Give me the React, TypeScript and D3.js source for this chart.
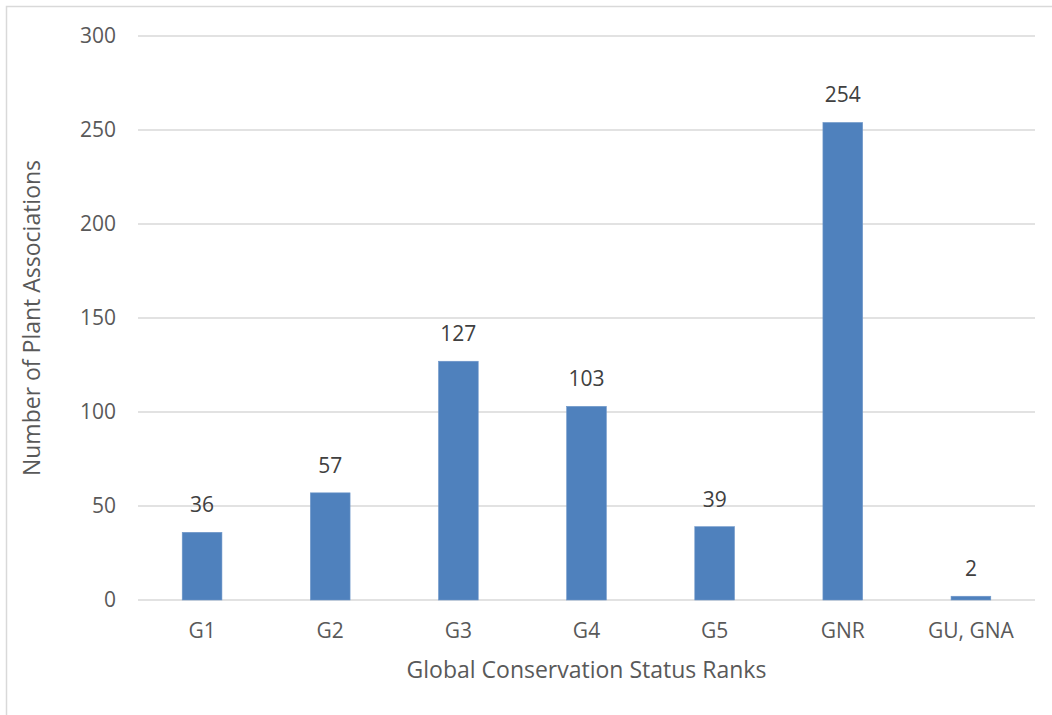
import React from "react";
import * as d3 from "d3";

const categories = ["G1", "G2", "G3", "G4", "G5", "GNR", "GU, GNA"];
const values = [36, 57, 127, 103, 39, 254, 2];
const yTicks = [0, 50, 100, 150, 200, 250, 300];
const xTitle = "Global Conservation Status Ranks";
const yTitle = "Number of Plant Associations";

const W = 1052;
const H = 715;
const left = 138;
const right = 1035;
const top = 36;
const bottom = 600;
const font = "'Open Sans', sans-serif";
const textColor = "#595959";

export default function App() {
  const x = d3.scaleBand<string>().domain(categories).range([left, right]).paddingInner(0.69).paddingOuter(0.345);
  const y = d3.scaleLinear().domain([0, 300]).range([bottom, top]);
  return (
    <svg width={W} height={H} style={{ position: "absolute", left: 0, top: 0 }}>
      <rect x={0} y={0} width={W} height={H} fill="#fff" />
      <rect x={6.5} y={6.5} width={W + 20} height={H + 20} fill="none" stroke="#d9d9d9" strokeWidth={1.5} />
      {yTicks.map((t) => (
        <g key={t}>
          <line x1={left} x2={right} y1={y(t)} y2={y(t)} stroke="#d9d9d9" strokeWidth={1.3} />
          <text x={116} y={y(t)} dy="0.35em" textAnchor="end" fontFamily={font} fontSize={21} fill={textColor}>
            {t}
          </text>
        </g>
      ))}
      {categories.map((c, i) => (
        <g key={c}>
          <rect
            x={x(c)!}
            y={y(values[i])}
            width={x.bandwidth()}
            height={y(0) - y(values[i])}
            fill="#4f81bd"
            stroke="#6f97c9"
            strokeWidth={0.6}
          />
          <text
            x={x(c)! + x.bandwidth() / 2}
            y={y(values[i]) - 20}
            textAnchor="middle"
            fontFamily={font}
            fontSize={21}
            fill="#404040"
          >
            {values[i]}
          </text>
          <text
            x={x(c)! + x.bandwidth() / 2}
            y={631}
            dy="0.35em"
            textAnchor="middle"
            fontFamily={font}
            fontSize={21}
            fill={textColor}
          >
            {c}
          </text>
        </g>
      ))}
      <text x={(left + right) / 2} y={670} dy="0.35em" textAnchor="middle" fontFamily={font} fontSize={23} fill={textColor}>
        {xTitle}
      </text>
      <text
        transform={`translate(32,${(top + bottom) / 2}) rotate(-90)`}
        dy="0.35em"
        textAnchor="middle"
        fontFamily={font}
        fontSize={23}
        fill={textColor}
      >
        {yTitle}
      </text>
    </svg>
  );
}
